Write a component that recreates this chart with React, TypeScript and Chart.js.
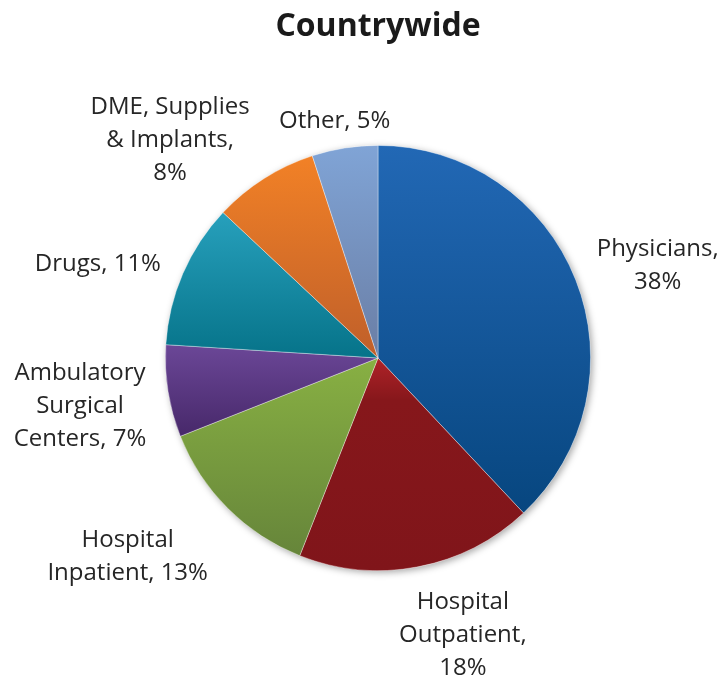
import React, { useEffect, useRef } from "react";
import { Chart, registerables } from "chart.js";

Chart.register(...registerables);

const TITLE = "Countrywide";
const categories = [
  "Physicians",
  "Hospital Outpatient",
  "Hospital Inpatient",
  "Ambulatory Surgical Centers",
  "Drugs",
  "DME, Supplies & Implants",
  "Other",
];
const shares = [38, 18, 13, 7, 11, 8, 5];
const labelLines = [
  ["Physicians,", "38%"],
  ["Hospital", "Outpatient,", "18%"],
  ["Hospital", "Inpatient, 13%"],
  ["Ambulatory", "Surgical", "Centers, 7%"],
  ["Drugs, 11%"],
  ["DME, Supplies", "& Implants,", "8%"],
  ["Other, 5%"],
];
const topColors = ["#2268b5", "#b02328", "#88b043", "#6b4797", "#27a0bc", "#f28126", "#80a4d6"];
const bottomColors = ["#07467f", "#80151a", "#66853a", "#47286a", "#067389", "#bf5f2a", "#6a7ea5"];
// label offsets from slice outer midpoint (px)
const labelDX = [82, 45, -100, -88, -85, -94, -10];
const labelDY = [-14, 68, 48, 15, -9, -38, -27];

const FONT = "'Open Sans', sans-serif";

const gradientPlugin = {
  id: "sliceGradients",
  beforeDatasetsDraw(chart: any) {
    const ctx = chart.ctx;
    const meta = chart.getDatasetMeta(0);
    if (!meta.data.length) return;
    const a0 = meta.data[0];
    ctx.save();
    ctx.shadowColor = "rgba(0,0,0,0.35)";
    ctx.shadowBlur = 7;
    ctx.shadowOffsetX = 2;
    ctx.shadowOffsetY = 2;
    ctx.fillStyle = "#ffffff";
    ctx.beginPath();
    ctx.arc(a0.x, a0.y, a0.outerRadius, 0, Math.PI * 2);
    ctx.fill();
    ctx.restore();
    meta.data.forEach((arc: any, i: number) => {
      const { x, y, startAngle, endAngle, outerRadius } = arc;
      const ys = [y, y + outerRadius * Math.sin(startAngle), y + outerRadius * Math.sin(endAngle)];
      for (let k = -4; k <= 8; k++) {
        const a = (k * Math.PI) / 2;
        if (a > startAngle && a < endAngle) ys.push(y + outerRadius * Math.sin(a));
      }
      const yMin = Math.min(...ys);
      const yMax = Math.max(...ys);
      const g = ctx.createLinearGradient(0, yMin, 0, yMax);
      g.addColorStop(0, topColors[i]);
      if (i === 1) g.addColorStop(0.2, "#86171b");
      g.addColorStop(1, bottomColors[i]);
      arc.options.backgroundColor = g;
    });
  },
};

const labelPlugin = {
  id: "outsideLabels",
  afterDatasetsDraw(chart: any) {
    const ctx = chart.ctx;
    const meta = chart.getDatasetMeta(0);
    ctx.save();
    ctx.font = `24px ${FONT}`;
    ctx.fillStyle = "#262626";
    ctx.textAlign = "center";
    ctx.textBaseline = "middle";
    const lh = 33;
    meta.data.forEach((arc: any, i: number) => {
      const { x, y, startAngle, endAngle, outerRadius } = arc;
      const mid = (startAngle + endAngle) / 2;
      const cx = x + outerRadius * Math.cos(mid) + labelDX[i];
      const cy = y + outerRadius * Math.sin(mid) + labelDY[i];
      const lines = labelLines[i];
      const y0 = cy - ((lines.length - 1) * lh) / 2;
      lines.forEach((t, j) => ctx.fillText(t, cx, y0 + j * lh));
    });
    ctx.restore();
  },
};

export default function App() {
  const ref = useRef<HTMLCanvasElement | null>(null);
  useEffect(() => {
    document.body.style.margin = "0";
    const chart = new Chart(ref.current as HTMLCanvasElement, {
      type: "pie",
      data: {
        labels: categories,
        datasets: [
          {
            data: shares,
            backgroundColor: topColors,
            borderColor: "rgba(255,255,255,0.45)",
            borderWidth: 0.8,
          },
        ],
      },
      options: {
        responsive: false,
        animation: false,
        layout: { padding: { left: 165, right: 131, top: 0, bottom: 109 } },
        plugins: {
          legend: { display: false },
          tooltip: { enabled: false },
          title: {
            display: true,
            text: TITLE,
            color: "#1a1a1a",
            font: { family: FONT, size: 32, weight: "bold" },
            padding: { top: 8, bottom: 98.6 },
          },
        },
      },
      plugins: [gradientPlugin, labelPlugin],
    });
    return () => chart.destroy();
  }, []);
  return <canvas ref={ref} width={722} height={680} style={{ display: "block" }} />;
}
